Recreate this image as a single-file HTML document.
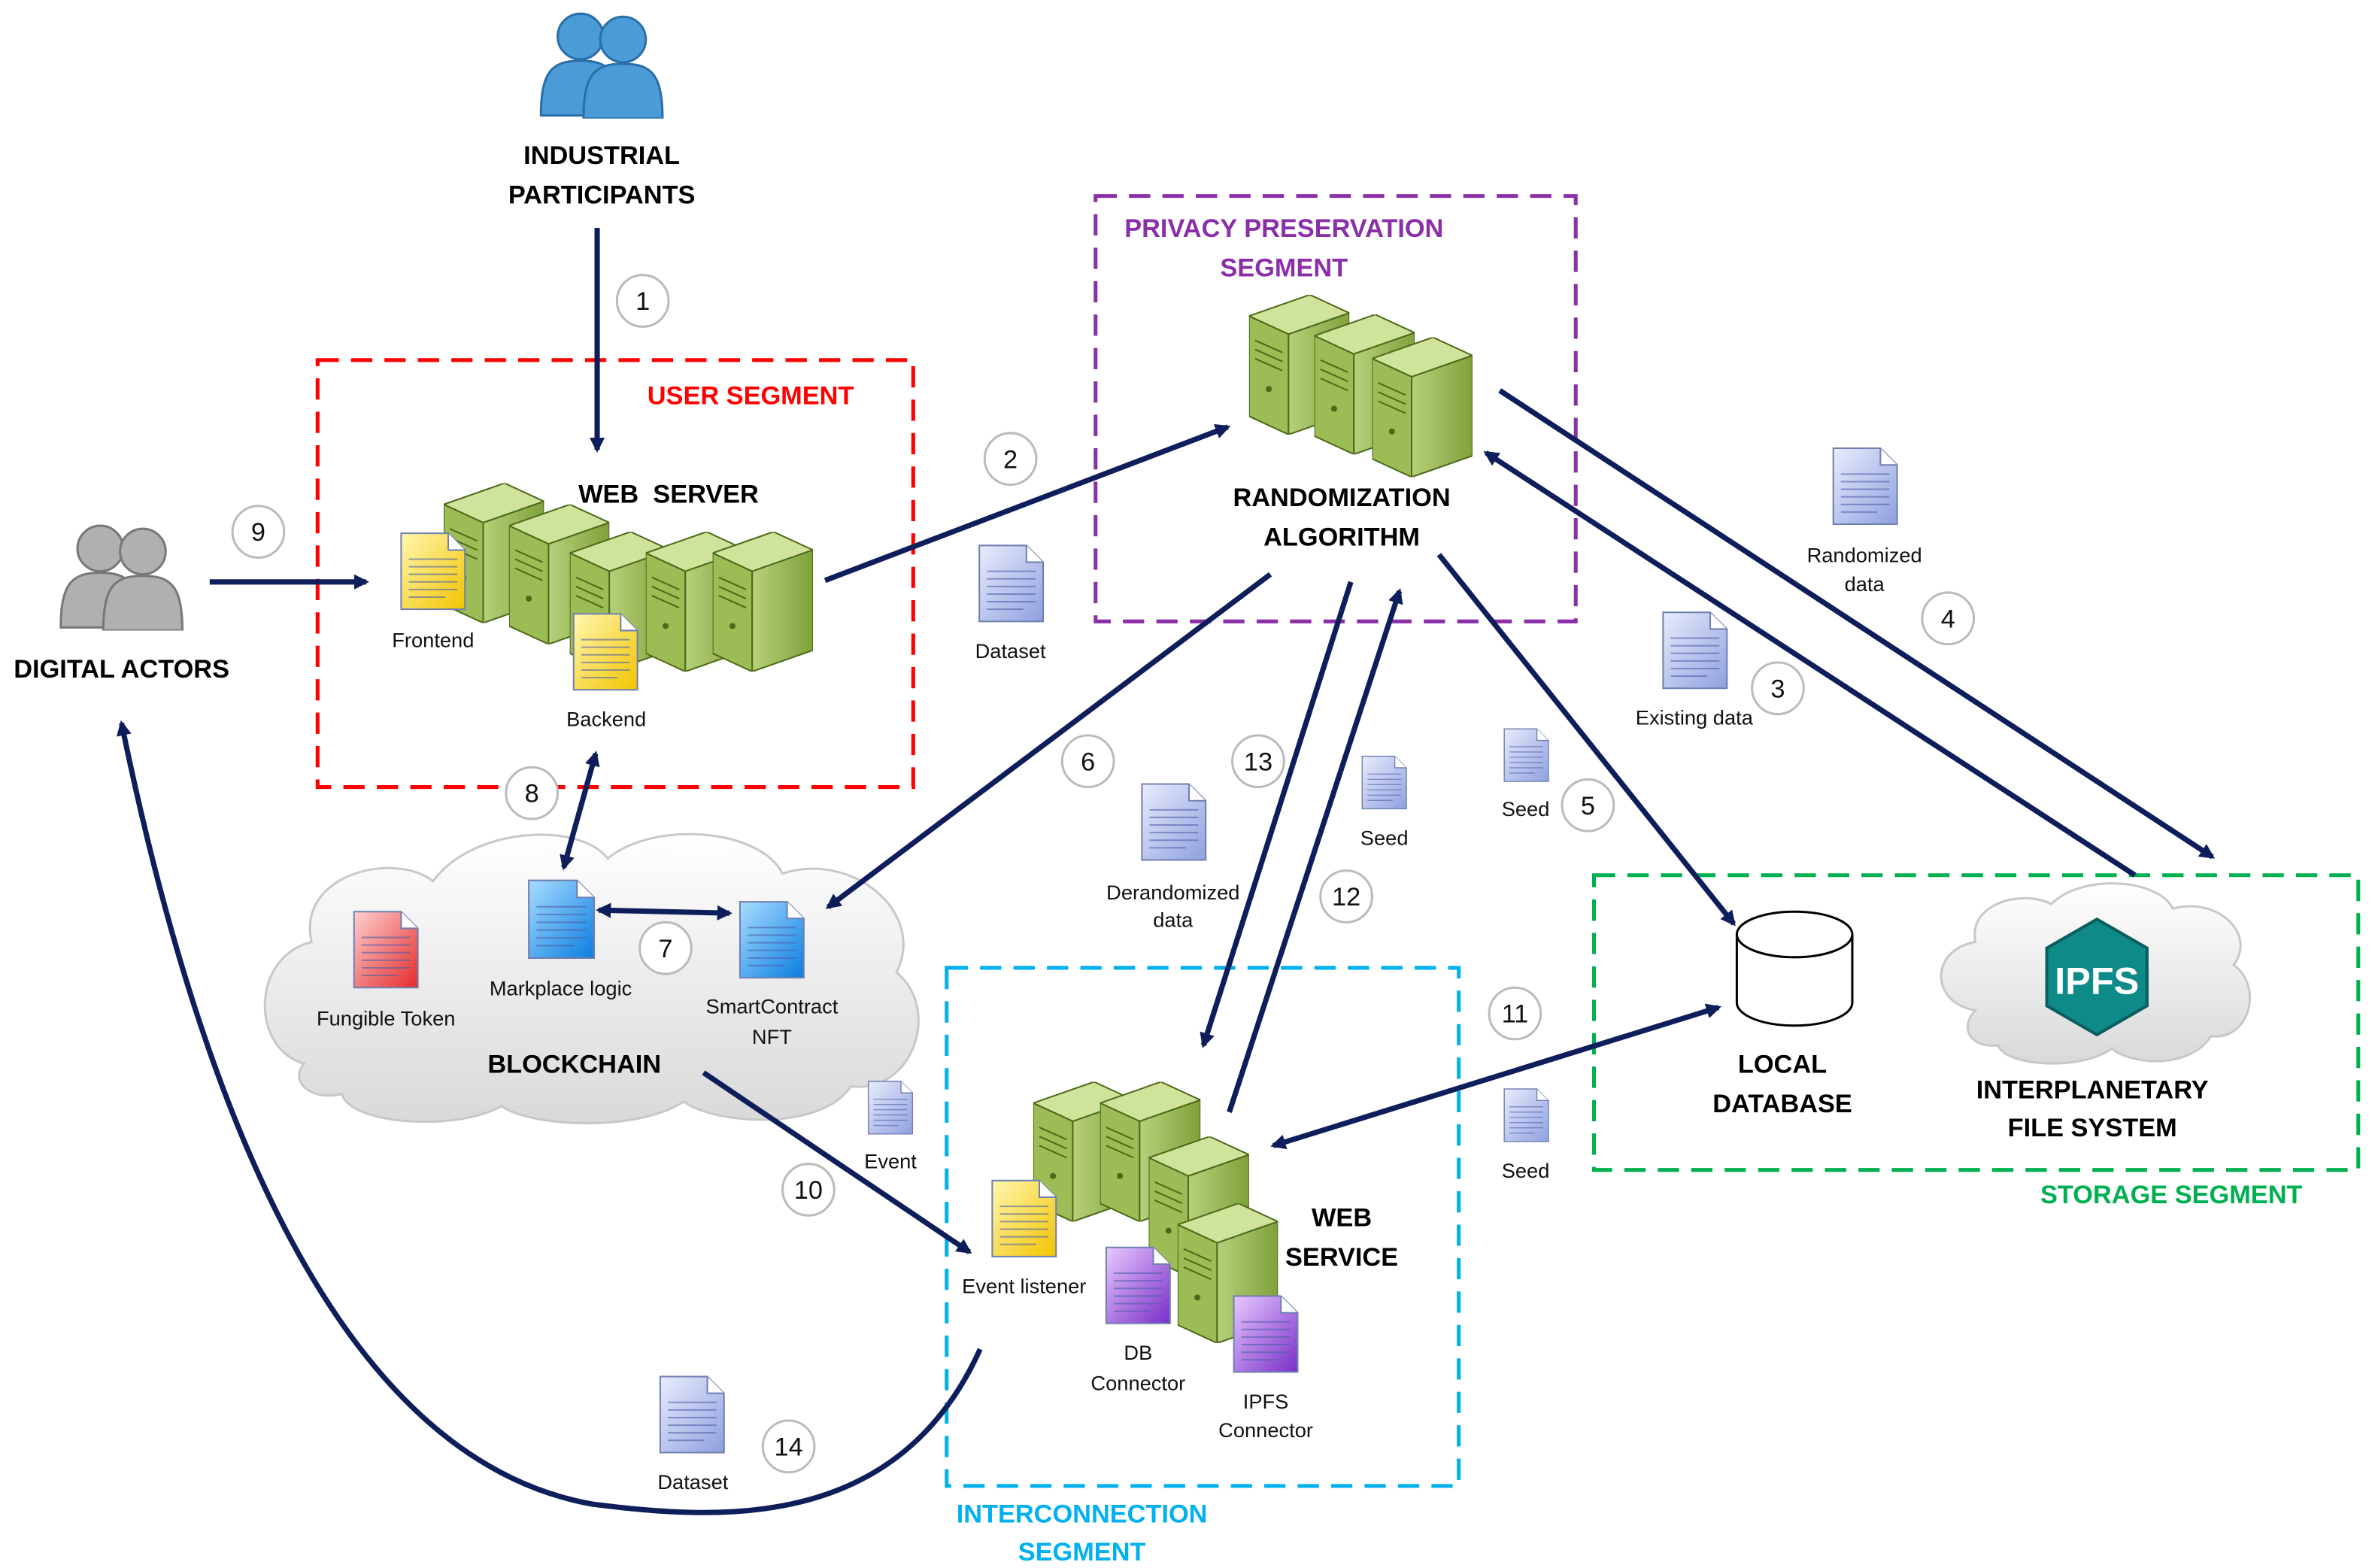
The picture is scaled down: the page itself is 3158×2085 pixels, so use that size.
<!DOCTYPE html>
<html><head><meta charset="utf-8"><style>
html,body{margin:0;padding:0;background:#fff;}
svg{display:block;}
text{font-family:"Liberation Sans",sans-serif;}
.b{font-weight:bold;font-size:17px;fill:#000;}
.s{font-size:13.5px;fill:#111;}
.n{font-size:17px;fill:#111;}
</style></head><body>
<svg width="3158" height="2085" viewBox="0 0 1563 1032" preserveAspectRatio="none" xmlns="http://www.w3.org/2000/svg">
<defs>
<marker id="ah" markerWidth="10" markerHeight="10" refX="8" refY="5" orient="auto" markerUnits="userSpaceOnUse" viewBox="0 0 10 10"><path d="M0,0 L10,5 L0,10 z" fill="#0e1e5b"/></marker>
<marker id="as" markerWidth="10" markerHeight="10" refX="2" refY="5" orient="auto" markerUnits="userSpaceOnUse" viewBox="0 0 10 10"><path d="M10,0 L0,5 L10,10 z" fill="#0e1e5b"/></marker>
<linearGradient id="gb" x1="0" y1="0" x2="1" y2="1"><stop offset="0" stop-color="#e8ecfb"/><stop offset="1" stop-color="#8fa0e0"/></linearGradient>
<linearGradient id="gy" x1="0" y1="0" x2="1" y2="1"><stop offset="0" stop-color="#fff7b0"/><stop offset="1" stop-color="#f2c400"/></linearGradient>
<linearGradient id="gr" x1="0" y1="0" x2="1" y2="1"><stop offset="0" stop-color="#ffd0d0"/><stop offset="1" stop-color="#e42a2a"/></linearGradient>
<linearGradient id="gc" x1="0" y1="0" x2="1" y2="1"><stop offset="0" stop-color="#a8ddff"/><stop offset="1" stop-color="#0a7de0"/></linearGradient>
<linearGradient id="gp" x1="0" y1="0" x2="1" y2="1"><stop offset="0" stop-color="#e7c9ff"/><stop offset="1" stop-color="#7a2ec8"/></linearGradient>
<linearGradient id="gs" x1="0" y1="0" x2="1" y2="0"><stop offset="0" stop-color="#b7d07a"/><stop offset="1" stop-color="#7fa23a"/></linearGradient>
<linearGradient id="gcl" x1="0" y1="0" x2="0" y2="1"><stop offset="0" stop-color="#fff"/><stop offset="1" stop-color="#d9d9d9"/></linearGradient>
<symbol id="doc" viewBox="0 0 44 52"><path d="M1,1 H32 L43,12 V51 H1 Z" fill="inherit" stroke="#6f7fb0" stroke-width="1"/><path d="M32,1 V12 H43" fill="#fff" stroke="#6f7fb0"/><g stroke="#5060a8" stroke-width="1" opacity=".6"><line x1="6" y1="18" x2="38" y2="18"/><line x1="6" y1="23" x2="38" y2="23"/><line x1="6" y1="28" x2="38" y2="28"/><line x1="6" y1="33" x2="38" y2="33"/><line x1="6" y1="38" x2="38" y2="38"/><line x1="6" y1="43" x2="30" y2="43"/></g></symbol>
<symbol id="srv" viewBox="0 0 66 92"><path d="M0,14 L40,0 L66,12 L26,26 Z" fill="#cfe39a" stroke="#4d6a1a"/><path d="M0,14 L26,26 V92 L0,80 Z" fill="#9cbc55" stroke="#4d6a1a"/><path d="M26,26 L66,12 V78 L26,92 Z" fill="url(#gs)" stroke="#4d6a1a"/><g stroke="#4d6a1a" stroke-width="1"><line x1="4" y1="30" x2="22" y2="38"/><line x1="4" y1="36" x2="22" y2="44"/><line x1="4" y1="42" x2="22" y2="50"/></g><circle cx="13" cy="62" r="2" fill="#4d6a1a"/></symbol>
<symbol id="ppl" viewBox="0 0 84 72"><g stroke-width="1.5"><circle cx="28" cy="18" r="15"/><path d="M2,70 C2,40 10,34 28,34 C46,34 54,40 54,70 Z"/><circle cx="56" cy="20" r="15"/><path d="M30,72 C30,42 38,36 56,36 C74,36 82,42 82,72 Z"/></g></symbol>
</defs>

<rect x="209" y="237" width="392" height="281" fill="none" stroke="#ff0000" stroke-width="2.5" stroke-dasharray="14,8"/>
<text x="494" y="266" class="b" style="fill:#ff0000" text-anchor="middle">USER SEGMENT</text>
<rect x="721" y="129" width="316" height="280" fill="none" stroke="#8b2fa8" stroke-width="2.5" stroke-dasharray="14,8"/>
<text x="845" y="156" class="b" style="fill:#8b2fa8" text-anchor="middle">PRIVACY PRESERVATION</text>
<text x="845" y="182" class="b" style="fill:#8b2fa8" text-anchor="middle">SEGMENT</text>
<rect x="1049" y="576" width="503" height="194" fill="none" stroke="#00b050" stroke-width="2.5" stroke-dasharray="14,8"/>
<text x="1429" y="792" class="b" style="fill:#00b050" text-anchor="middle">STORAGE SEGMENT</text>
<rect x="623" y="637" width="337" height="341" fill="none" stroke="#00b0f0" stroke-width="2.5" stroke-dasharray="14,8"/>
<text x="712" y="1002" class="b" style="fill:#00b0f0" text-anchor="middle">INTERCONNECTION</text>
<text x="712" y="1027" class="b" style="fill:#00b0f0" text-anchor="middle">SEGMENT</text>

<path d="M200,700 C165,690 165,630 205,620 C195,575 260,560 285,580 C310,545 380,540 400,565 C430,540 500,545 515,575 C560,560 610,600 590,640 C620,665 600,720 560,715 C540,745 470,740 450,725 C420,745 350,742 330,728 C300,745 230,740 225,720 C205,725 190,712 200,700 Z" fill="url(#gcl)" stroke="#c8c8c8" stroke-width="1.5"/>
<path d="M1300,665 C1270,660 1270,625 1300,620 C1295,595 1330,585 1350,595 C1370,575 1420,578 1430,598 C1460,590 1485,615 1470,635 C1490,650 1480,685 1455,682 C1440,705 1400,700 1390,690 C1370,705 1320,702 1315,688 C1295,690 1290,675 1300,665 Z" fill="url(#gcl)" stroke="#c8c8c8" stroke-width="1.5"/>
<polygon points="1380,605 1413,624 1413,662 1380,681 1347,662 1347,624" fill="#0e8a88" stroke="#0a5e5d" stroke-width="2"/>
<text x="1380" y="654" style="font-size:25px;font-weight:bold;fill:#fff" text-anchor="middle">IPFS</text>

<path d="M1143,615 V660 A38,15 0 0 0 1219,660 V615" fill="#fff" stroke="#000" stroke-width="1.5"/>
<ellipse cx="1181" cy="615" rx="38" ry="15" fill="#fff" stroke="#000" stroke-width="1.5"/>

<use href="#ppl" x="354" y="6" width="84" height="72" fill="#4a9bd6" stroke="#2a6fa8"/>
<use href="#ppl" x="38" y="343" width="84" height="72" fill="#b0b0b0" stroke="#777"/>

<use href="#srv" x="292" y="318" width="66" height="92"/>
<use href="#srv" x="335" y="332" width="66" height="92"/>
<use href="#srv" x="375" y="350" width="66" height="92"/>
<use href="#srv" x="425" y="350" width="66" height="92"/>
<use href="#srv" x="469" y="350" width="66" height="92"/>
<use href="#srv" x="822" y="194" width="66" height="92"/>
<use href="#srv" x="865" y="207" width="66" height="92"/>
<use href="#srv" x="903" y="222" width="66" height="92"/>
<use href="#srv" x="680" y="712" width="66" height="92"/>
<use href="#srv" x="724" y="712" width="66" height="92"/>
<use href="#srv" x="756" y="748" width="66" height="92"/>
<use href="#srv" x="775" y="792" width="66" height="92"/>

<use href="#doc" x="263" y="350" width="44" height="52" fill="url(#gy)"/>
<use href="#doc" x="376" y="403" width="45" height="52" fill="url(#gy)"/>
<use href="#doc" x="643" y="358" width="45" height="52" fill="url(#gb)"/>
<use href="#doc" x="1205" y="294" width="45" height="52" fill="url(#gb)"/>
<use href="#doc" x="1093" y="402" width="45" height="52" fill="url(#gb)"/>
<use href="#doc" x="989" y="479" width="31" height="36" fill="url(#gb)"/>
<use href="#doc" x="895" y="497" width="32" height="36" fill="url(#gb)"/>
<use href="#doc" x="750" y="515" width="45" height="52" fill="url(#gb)"/>
<use href="#doc" x="989" y="716" width="31" height="36" fill="url(#gb)"/>
<use href="#doc" x="570" y="711" width="32" height="36" fill="url(#gb)"/>
<use href="#doc" x="232" y="598" width="44" height="54" fill="url(#gr)"/>
<use href="#doc" x="347" y="578" width="45" height="54" fill="url(#gc)"/>
<use href="#doc" x="486" y="592" width="44" height="53" fill="url(#gc)"/>
<use href="#doc" x="652" y="776" width="44" height="52" fill="url(#gy)"/>
<use href="#doc" x="727" y="820" width="44" height="52" fill="url(#gp)"/>
<use href="#doc" x="811" y="852" width="44" height="52" fill="url(#gp)"/>
<use href="#doc" x="433" y="905" width="45" height="52" fill="url(#gb)"/>

<g stroke="#0e1e5b" stroke-width="3.5" fill="none">
<line x1="393" y1="150" x2="393" y2="296" marker-end="url(#ah)"/>
<line x1="138" y1="383" x2="241" y2="383" marker-end="url(#ah)"/>
<line x1="543" y1="382" x2="808" y2="281" marker-end="url(#ah)"/>
<line x1="987" y1="257" x2="1456" y2="564" marker-end="url(#ah)"/>
<line x1="1405" y1="576" x2="978" y2="298" marker-end="url(#ah)"/>
<line x1="947" y1="365" x2="1141" y2="608" marker-end="url(#ah)"/>
<line x1="836" y1="378" x2="545" y2="597" marker-end="url(#ah)"/>
<line x1="889" y1="383" x2="792" y2="688" marker-end="url(#ah)"/>
<line x1="809" y1="732" x2="921" y2="389" marker-end="url(#ah)"/>
<line x1="1131" y1="663" x2="838" y2="754" marker-end="url(#ah)" marker-start="url(#as)"/>
<line x1="394" y1="599" x2="480" y2="601" marker-end="url(#ah)" marker-start="url(#as)"/>
<line x1="392" y1="496" x2="371" y2="571" marker-end="url(#ah)" marker-start="url(#as)"/>
<line x1="463" y1="706" x2="638" y2="824" marker-end="url(#ah)"/>
<path d="M645,888 C590,1010 470,1000 390,990 C220,960 130,720 80,476" marker-end="url(#ah)"/>
</g>

<g fill="#fff" stroke="#bbb" stroke-width="1.5">
<circle cx="423" cy="198" r="17"/><circle cx="665" cy="302" r="17"/><circle cx="170" cy="350" r="17"/>
<circle cx="1282" cy="407" r="17"/><circle cx="1170" cy="453" r="17"/><circle cx="1045" cy="530" r="17"/>
<circle cx="716" cy="501" r="17"/><circle cx="828" cy="501" r="17"/><circle cx="886" cy="590" r="17"/>
<circle cx="997" cy="667" r="17"/><circle cx="438" cy="624" r="17"/><circle cx="350" cy="522" r="17"/>
<circle cx="532" cy="783" r="17"/><circle cx="519" cy="952" r="17"/>
</g>
<g text-anchor="middle">
<text x="423" y="204" class="n">1</text><text x="665" y="308" class="n">2</text><text x="170" y="356" class="n">9</text>
<text x="1282" y="413" class="n">4</text><text x="1170" y="459" class="n">3</text><text x="1045" y="536" class="n">5</text>
<text x="716" y="507" class="n">6</text><text x="828" y="507" class="n">13</text><text x="886" y="596" class="n">12</text>
<text x="997" y="673" class="n">11</text><text x="438" y="630" class="n">7</text><text x="350" y="528" class="n">8</text>
<text x="532" y="789" class="n">10</text><text x="519" y="958" class="n">14</text>
</g>

<g text-anchor="middle">
<text x="396" y="108" class="b">INDUSTRIAL</text><text x="396" y="134" class="b">PARTICIPANTS</text>
<text x="80" y="446" class="b">DIGITAL ACTORS</text>
<text x="440" y="331" class="b">WEB&#160; SERVER</text>
<text x="883" y="333" class="b">RANDOMIZATION</text><text x="883" y="359" class="b">ALGORITHM</text>
<text x="1173" y="706" class="b">LOCAL</text><text x="1173" y="732" class="b">DATABASE</text>
<text x="1377" y="723" class="b">INTERPLANETARY</text><text x="1377" y="748" class="b">FILE SYSTEM</text>
<text x="378" y="706" class="b">BLOCKCHAIN</text>
<text x="883" y="807" class="b">WEB</text><text x="883" y="833" class="b">SERVICE</text>
<text x="285" y="426" class="s">Frontend</text>
<text x="399" y="478" class="s">Backend</text>
<text x="665" y="433" class="s">Dataset</text>
<text x="1227" y="370" class="s">Randomized</text><text x="1227" y="389" class="s">data</text>
<text x="1115" y="477" class="s">Existing data</text>
<text x="1004" y="537" class="s">Seed</text>
<text x="911" y="556" class="s">Seed</text>
<text x="772" y="592" class="s">Derandomized</text><text x="772" y="610" class="s">data</text>
<text x="1004" y="775" class="s">Seed</text>
<text x="586" y="769" class="s">Event</text>
<text x="254" y="675" class="s">Fungible Token</text>
<text x="369" y="655" class="s">Markplace logic</text>
<text x="508" y="667" class="s">SmartContract</text><text x="508" y="687" class="s">NFT</text>
<text x="674" y="851" class="s">Event listener</text>
<text x="749" y="895" class="s">DB</text><text x="749" y="915" class="s">Connector</text>
<text x="833" y="927" class="s">IPFS</text><text x="833" y="946" class="s">Connector</text>
<text x="456" y="980" class="s">Dataset</text>
</g>
</svg>
</body></html>
